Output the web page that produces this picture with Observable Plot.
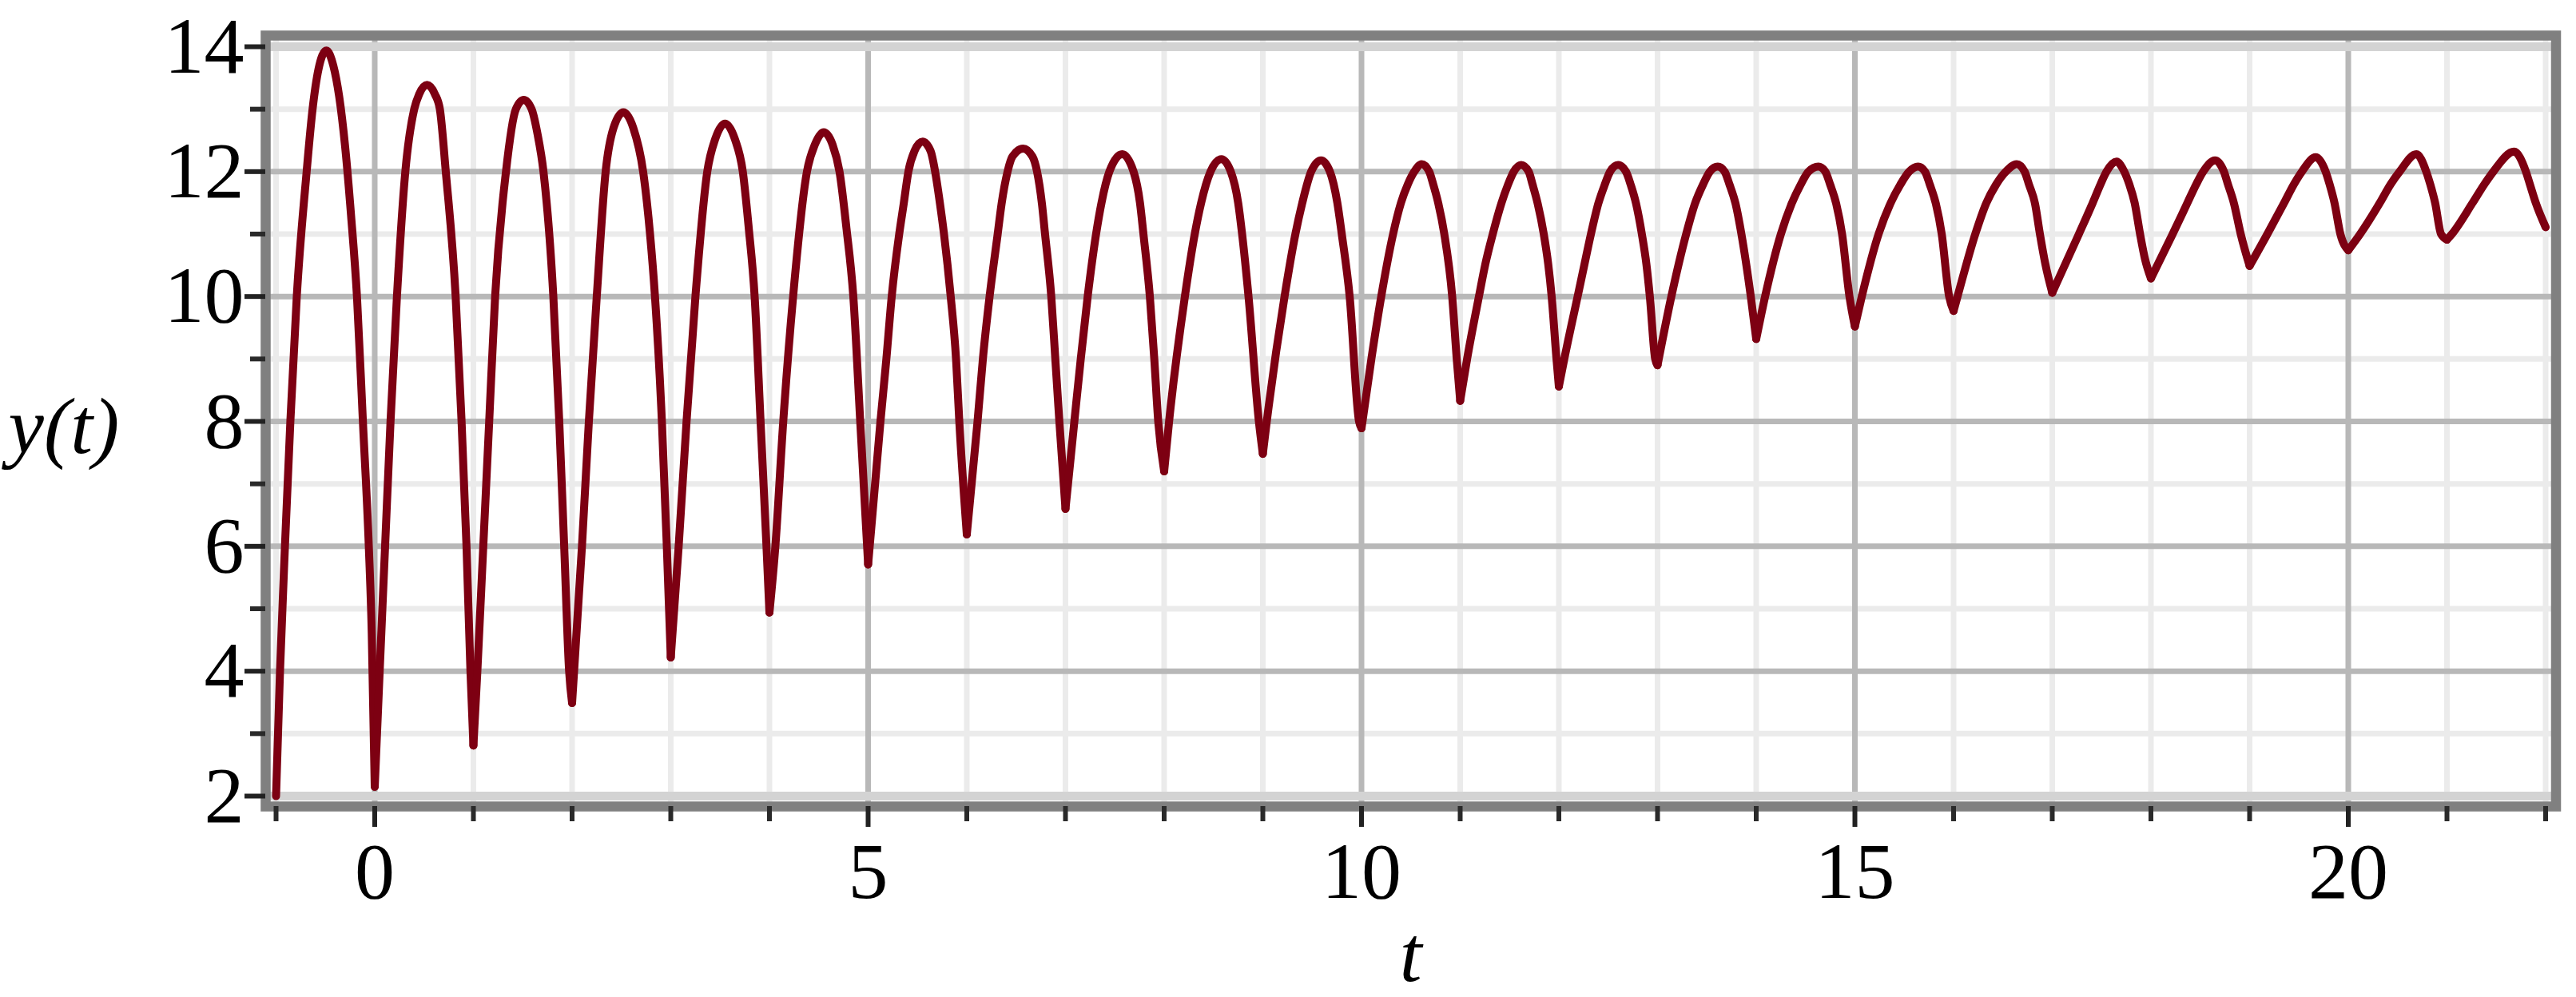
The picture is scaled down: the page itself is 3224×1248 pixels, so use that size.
<!DOCTYPE html>
<html>
<head>
<meta charset="utf-8">
<script src="https://cdn.jsdelivr.net/npm/d3@7"></script>
<script src="https://cdn.jsdelivr.net/npm/@observablehq/plot@0.6"></script>
<style>
  html, body { margin: 0; padding: 0; background: #ffffff; overflow: hidden; }
  #chart svg { display: block; }
</style>
</head>
<body>
<div id="chart"></div>
<script>
// Cusp (minimum) times and values, including the start and end of the curve
const cuspT = [-1, 0, 1, 2, 3, 4, 5, 6, 7, 8, 9, 10, 11, 12, 13, 14, 15, 16, 17, 18, 19, 20, 21, 22];
const cuspY = [2.0, 2.15, 2.81, 3.49, 4.22, 4.94, 5.71, 6.19, 6.6, 7.2, 7.48, 7.89, 8.33, 8.56, 8.9, 9.32, 9.52, 9.77, 10.06, 10.29, 10.49, 10.74, 10.91, 11.11];

// Points read along each arch between two cusps
const innerT = [
  -0.96, -0.91, -0.855, -0.79, -0.69, -0.63, -0.57, -0.49, -0.42, -0.36, -0.30, -0.24, -0.18, -0.12, -0.06, -0.03,
  0.05, 0.105, 0.16, 0.225, 0.31, 0.40, 0.45, 0.53, 0.61, 0.66, 0.72, 0.82, 0.88, 0.93, 0.97,
  1.04, 1.10, 1.16, 1.22, 1.33, 1.43, 1.51, 1.59, 1.65, 1.71, 1.81, 1.87, 1.92, 1.97,
  2.10, 2.17, 2.25, 2.34, 2.42, 2.52, 2.62, 2.72, 2.79, 2.84, 2.91, 2.96,
  3.08, 3.16, 3.25, 3.37, 3.45, 3.55, 3.65, 3.73, 3.79, 3.85, 3.91, 3.97,
  4.06, 4.14, 4.24, 4.38, 4.46, 4.55, 4.64, 4.71, 4.78, 4.85, 4.92,
  5.125, 5.185, 5.239, 5.315, 5.361, 5.408, 5.47, 5.552, 5.633, 5.679, 5.728, 5.769, 5.837, 5.891, 5.924,
  6.109, 6.163, 6.231, 6.313, 6.353, 6.413, 6.462, 6.571, 6.666, 6.712, 6.761, 6.793, 6.856, 6.897, 6.938,
  7.09, 7.155, 7.225, 7.31, 7.365, 7.445, 7.575, 7.69, 7.755, 7.79, 7.855, 7.90, 7.94,
  8.05, 8.21, 8.31, 8.375, 8.47, 8.58, 8.675, 8.75, 8.79, 8.855, 8.96,
  9.04, 9.22, 9.33, 9.40, 9.49, 9.59, 9.68, 9.755, 9.80, 9.88, 9.975,
  10.10, 10.20, 10.32, 10.40, 10.47, 10.535, 10.61, 10.686, 10.726, 10.777, 10.839, 10.919, 10.965,
  11.07, 11.19, 11.255, 11.33, 11.417, 11.484, 11.543, 11.618, 11.694, 11.734, 11.785, 11.847, 11.892, 11.927, 11.976,
  12.055, 12.19, 12.26, 12.325, 12.40, 12.465, 12.519, 12.6, 12.68, 12.728, 12.782, 12.841, 12.887, 12.922, 12.976,
  13.14, 13.29, 13.38, 13.46, 13.53, 13.61, 13.68, 13.73, 13.79, 13.85, 13.945,
  14.09, 14.25, 14.36, 14.45, 14.53, 14.63, 14.70, 14.75, 14.81, 14.87, 14.945,
  15.07, 15.24, 15.36, 15.46, 15.55, 15.64, 15.71, 15.76, 15.82, 15.88, 15.955,
  16.04, 16.22, 16.33, 16.43, 16.53, 16.64, 16.72, 16.765, 16.825, 16.875, 16.93,
  17.27, 17.41, 17.49, 17.55, 17.65, 17.73, 17.78, 17.835, 17.89, 17.94,
  18.22, 18.37, 18.46, 18.53, 18.65, 18.74, 18.78, 18.84, 18.91,
  19.18, 19.35, 19.45, 19.53, 19.67, 19.77, 19.81, 19.86, 19.92,
  20.12, 20.32, 20.43, 20.52, 20.69, 20.79, 20.83, 20.88, 20.94,
  21.05, 21.26, 21.38, 21.47, 21.68, 21.80, 21.84, 21.90
];
const innerY = [
  4, 6, 8, 10, 12, 13, 13.64, 13.94, 13.7, 13.2, 12.4, 11.3, 10, 8, 6, 4.6,
  4, 6, 8, 10, 12, 13, 13.24, 13.39, 13.24, 13, 12, 10, 8, 6, 4,
  4, 6, 8, 10, 12, 13, 13.15, 13, 12.6, 12, 10, 8, 6, 4,
  6, 8, 10, 12, 12.7, 12.95, 12.7, 12, 11, 10, 8, 6,
  6, 8, 10, 12, 12.52, 12.77, 12.52, 12, 11.1, 10, 8, 6,
  6, 8, 10, 12, 12.43, 12.63, 12.43, 12, 11.1, 10, 8,
  8, 9, 10, 11, 11.49, 12, 12.33, 12.48, 12.33, 12, 11.49, 11, 10, 9, 8,
  8, 9, 10, 11, 11.49, 12, 12.24, 12.37, 12.24, 12, 11.49, 11, 10, 9, 8,
  8, 9, 10, 11, 11.5, 12, 12.28, 12, 11.5, 11, 10, 9, 8,
  8, 10, 11, 11.5, 12, 12.2, 12, 11.5, 11, 10, 8,
  8, 10, 11, 11.5, 12, 12.18, 12, 11.5, 11, 10, 8,
  9, 10, 11, 11.5, 11.8, 12, 12.12, 12, 11.8, 11.5, 11, 10, 9,
  9, 10, 10.52, 11, 11.49, 11.79, 12, 12.106, 12, 11.79, 11.49, 11, 10.52, 10, 9,
  9, 10, 10.52, 11, 11.49, 11.79, 12, 12.106, 12, 11.79, 11.49, 11, 10.52, 10, 9,
  10, 11, 11.49, 11.79, 12, 12.08, 12, 11.79, 11.49, 11, 10,
  10, 11, 11.49, 11.79, 12, 12.08, 12, 11.79, 11.49, 11, 10,
  10, 11, 11.49, 11.79, 12, 12.08, 12, 11.79, 11.49, 11, 10,
  10, 11, 11.49, 11.79, 12, 12.12, 12, 11.79, 11.49, 11, 10.52,
  11, 11.5, 11.8, 12, 12.16, 12, 11.8, 11.5, 11, 10.6,
  11, 11.5, 11.8, 12, 12.18, 12, 11.8, 11.5, 11,
  11, 11.5, 11.8, 12, 12.23, 12, 11.8, 11.5, 11,
  11, 11.5, 11.8, 12, 12.28, 12, 11.8, 11.5, 11,
  11, 11.5, 11.8, 12, 12.32, 12, 11.8, 11.5
];

// Tick values and labels
const xTickLabels = [0, 5, 10, 15, 20];
const xMinorTicks = [-1, 1, 2, 3, 4, 6, 7, 8, 9, 11, 12, 13, 14, 16, 17, 18, 19, 21, 22];
const yTickLabels = [2, 4, 6, 8, 10, 12, 14];
const yMinorTicks = [3, 5, 7, 9, 11, 13];
const xTitle = "t";
const yTitle = "y(t)";

// Build one series per arch so that cusps stay sharp
const rows = [];
for (let k = 0; k < cuspT.length - 1; k++) {
  const a = cuspT[k], b = cuspT[k + 1];
  rows.push({t: a, y: cuspY[k], arch: k});
  innerT.forEach((t, i) => { if (t > a && t < b) rows.push({t, y: innerY[i], arch: k}); });
  rows.push({t: b, y: cuspY[k + 1], arch: k});
}

const font = "'Liberation Serif', 'Times New Roman', 'DejaVu Serif', serif";
const curveColor = "#7d0012";
const fmt = d => String(d);

const chart = Plot.plot({
  width: 3224,
  height: 1248,
  marginLeft: 345,
  marginRight: 38.5,
  marginTop: 58,
  marginBottom: 252,
  style: {background: "#ffffff", overflow: "visible"},
  x: {domain: [-1, 22]},
  y: {domain: [2, 14]},
  marks: [
    Plot.gridX(xMinorTicks, {stroke: "#ebebeb", strokeOpacity: 1, strokeWidth: 7, insetTop: -10, insetBottom: -10}),
    Plot.gridY(yMinorTicks, {stroke: "#ebebeb", strokeOpacity: 1, strokeWidth: 7, insetLeft: -10, insetRight: -10}),
    Plot.gridX(xTickLabels, {stroke: "#b8b8b8", strokeOpacity: 1, strokeWidth: 7, insetTop: -10, insetBottom: -10}),
    Plot.gridY(yTickLabels.filter(v => v !== 2 && v !== 14), {stroke: "#b8b8b8", strokeOpacity: 1, strokeWidth: 7, insetLeft: -10, insetRight: -10}),
    Plot.gridY([yTickLabels[0], yTickLabels[yTickLabels.length - 1]], {stroke: "#d3d3d3", strokeOpacity: 1, strokeWidth: 11, insetLeft: -10, insetRight: -10}),
    Plot.line(rows, {x: "t", y: "y", z: "arch", stroke: curveColor, strokeWidth: 10, curve: "monotone-x"}),
    Plot.frame({stroke: "#808080", strokeWidth: 12.5, insetLeft: -13, insetRight: -13, insetTop: -14, insetBottom: -13}),
    Plot.axisX(xMinorTicks, {anchor: "bottom", tickSize: 19, dy: 13, stroke: "#2a2a2a", strokeWidth: 6, tickFormat: () => "", label: null}),
    Plot.axisX(xTickLabels, {anchor: "bottom", tickSize: 26, dy: 13, tickPadding: 17, stroke: "#222222", strokeWidth: 6, fill: "#000000", fontSize: 100, fontFamily: font, tickFormat: fmt, label: null}),
    Plot.axisY(yMinorTicks, {anchor: "left", tickSize: 19, dx: -13, stroke: "#2a2a2a", strokeWidth: 6, tickFormat: () => "", label: null}),
    Plot.axisY(yTickLabels, {anchor: "left", tickSize: 26, dx: -13, tickPadding: 1, stroke: "#222222", strokeWidth: 6, fill: "#000000", fontSize: 100, fontFamily: font, tickFormat: fmt, label: null}),
    Plot.text([xTitle], {frameAnchor: "bottom", lineAnchor: "top", dy: 160, fontSize: 100, fontStyle: "italic", fontFamily: font, fill: "#000000"}),
    Plot.text([yTitle], {frameAnchor: "left", textAnchor: "start", lineAnchor: "middle", dx: -335, dy: 7, fontSize: 100, fontStyle: "italic", fontFamily: font, fill: "#000000"})
  ]
});
document.getElementById("chart").appendChild(chart);
</script>
</body>
</html>
